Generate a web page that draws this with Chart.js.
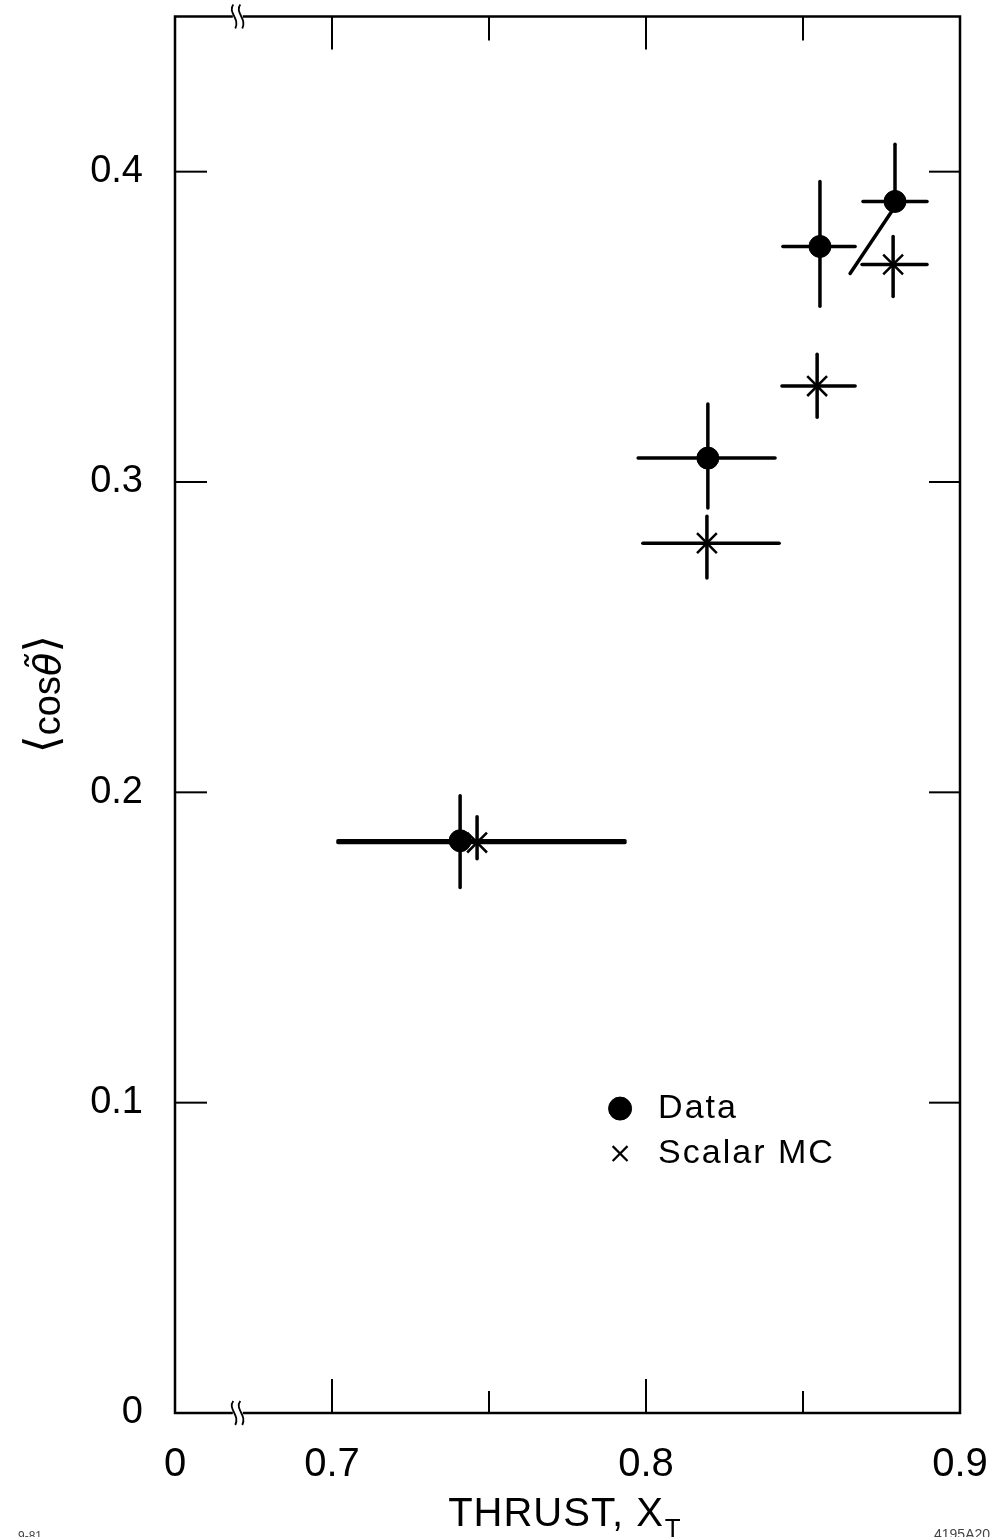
<!DOCTYPE html>
<html>
<head>
<meta charset="utf-8">
<script src="https://cdn.jsdelivr.net/npm/chart.js@4/dist/chart.umd.min.js"></script>
<style>
  html, body { margin: 0; padding: 0; background: #fff; }
  canvas { display: block; }
</style>
</head>
<body>
<canvas id="c" width="996" height="1537"></canvas>
<script>
// Measured <cos theta~> versus thrust: data points
const thrustData   = [0.7408, 0.8197, 0.8554, 0.8793];
const thrustDataLo = [0.7019, 0.7975, 0.8436, 0.8691];
const thrustDataHi = [0.7933, 0.8411, 0.8666, 0.8895];
const cosData      = [0.1844, 0.3077, 0.3759, 0.3904];
const cosDataLo    = [0.1693, 0.2916, 0.3566, 0.3904];
const cosDataHi    = [0.1989, 0.3251, 0.3968, 0.4088];

// Scalar gluon Monte Carlo expectation
const thrustMC   = [0.7462, 0.8194, 0.8545, 0.8787];
const thrustMCLo = [0.7019, 0.7990, 0.8433, 0.8688];
const thrustMCHi = [0.7933, 0.8424, 0.8666, 0.8895];
const cosMC      = [0.1838, 0.2803, 0.3309, 0.3701];
const cosMCLo    = [0.1786, 0.2691, 0.3209, 0.3598];
const cosMCHi    = [0.1921, 0.2890, 0.3412, 0.3791];

// slanted lower bar on the last data point
const slashThrust = [0.8650, 0.8793];
const slashCos    = [0.3672, 0.3888];

// axes
const xTickValues = [0.65, 0.7, 0.8, 0.9];
const xTickLabels = ['0', '0.7', '0.8', '0.9'];
const xMinorTicks = [0.75, 0.85];
const yTickValues = [0, 0.1, 0.2, 0.3, 0.4];
const yTickLabels = ['0', '0.1', '0.2', '0.3', '0.4'];
const xBreakAt = 0.67;

const FONT = '"Liberation Sans", Arial, sans-serif';

function seg(ctx, x1, y1, x2, y2) {
  ctx.beginPath(); ctx.moveTo(x1, y1); ctx.lineTo(x2, y2); ctx.stroke();
}

// keep the plot frame fixed: no extra room reserved for edge labels
function noEdgePadding(s) {
  s.paddingLeft = 0; s.paddingRight = 0; s.paddingTop = 0; s.paddingBottom = 0;
}

const framePlugin = {
  id: 'frame',
  beforeDatasetsDraw(chart) {
    const { ctx, chartArea: a, scales: { x, y } } = chart;
    ctx.save();
    ctx.strokeStyle = '#000';
    ctx.fillStyle = '#000';

    // outer box
    ctx.lineWidth = 2.5;
    ctx.strokeRect(a.left, a.top, a.right - a.left, a.bottom - a.top);

    // inward ticks, left and right
    ctx.lineWidth = 2;
    yTickValues.forEach(v => {
      if (v === 0) return;
      const py = y.getPixelForValue(v);
      seg(ctx, a.left, py, a.left + 32, py);
      seg(ctx, a.right - 31, py, a.right, py);
    });

    // inward ticks, top and bottom
    const xt = xTickValues.slice(1).concat(xMinorTicks).filter(v => v < x.max);
    xt.forEach(v => {
      const major = xTickValues.includes(v);
      const px = x.getPixelForValue(v);
      seg(ctx, px, a.bottom, px, a.bottom - (major ? 34 : 22));
      seg(ctx, px, a.top, px, a.top + (major ? 33 : 24));
    });

    // axis break marks
    const bx = x.getPixelForValue(xBreakAt);
    [a.top, a.bottom].forEach(by => {
      ctx.fillStyle = '#fff';
      ctx.fillRect(bx - 5, by - 3, 10, 6);
      ctx.strokeStyle = '#000';
      ctx.lineWidth = 1.8;
      [-3.5, 3.5].forEach(dx => {
        const cx = bx + dx;
        ctx.beginPath();
        ctx.moveTo(cx - 1, by - 12);
        ctx.bezierCurveTo(cx - 7, by - 4, cx + 6, by + 2, cx + 1, by + 12);
        ctx.stroke();
      });
    });

    // error bars
    ctx.lineWidth = 3.5;
    ctx.lineCap = 'round';
    const bars = (xs, xlo, xhi, ys, ylo, yhi) => {
      xs.forEach((xv, i) => {
        const py = y.getPixelForValue(ys[i]);
        const px = x.getPixelForValue(xv);
        seg(ctx, x.getPixelForValue(xlo[i]), py, x.getPixelForValue(xhi[i]), py);
        if (ylo[i] < ys[i]) seg(ctx, px, py, px, y.getPixelForValue(ylo[i]));
        if (yhi[i] > ys[i]) seg(ctx, px, py, px, y.getPixelForValue(yhi[i]));
      });
    };
    bars(thrustMC, thrustMCLo, thrustMCHi, cosMC, cosMCLo, cosMCHi);
    bars(thrustData, thrustDataLo, thrustDataHi, cosData, cosDataLo, cosDataHi);
    ctx.restore();
  },
  afterDatasetsDraw(chart) {
    const { ctx, chartArea: a } = chart;
    const W = a.right - a.left, H = a.bottom - a.top;
    ctx.save();
    ctx.fillStyle = '#000';
    ctx.strokeStyle = '#000';

    // legend inside the frame
    const lx = a.left + 0.567 * W;
    let ly = a.top + 0.782 * H;
    ctx.font = '34px ' + FONT;
    ctx.letterSpacing = '2px';
    ctx.textBaseline = 'middle';
    ctx.textAlign = 'left';
    chart.data.datasets.slice(0, 2).forEach(ds => {
      ctx.lineWidth = ds.pointStyle === 'circle' ? 1 : 2.2;
      Chart.helpers.drawPoint(ctx, {
        pointStyle: ds.pointStyle,
        radius: ds.pointStyle === 'circle' ? 11.5 : 10.5,
        rotation: 0,
        borderWidth: ctx.lineWidth
      }, lx, ly);
      ctx.fillText(ds.label, lx + 38, ly);
      ly += 45;
    });

    // x axis title with subscript
    ctx.letterSpacing = '1px';
    ctx.font = '40px ' + FONT;
    ctx.textBaseline = 'alphabetic';
    const t = 'THRUST, X';
    const tw = ctx.measureText(t).width;
    const tx = 560 - tw / 2 - 4;
    ctx.fillText(t, tx, 1526);
    ctx.font = '26px ' + FONT;
    ctx.fillText('T', tx + tw + 1, 1537);

    // y axis title, rotated
    ctx.letterSpacing = '0px';
    ctx.translate(60, 694);
    ctx.rotate(-Math.PI / 2);
    const parts = [
      { s: '\u27E8', f: '46px "DejaVu Sans", sans-serif', dy: -3 },
      { s: 'cos', f: '38px ' + FONT, dy: 0 },
      { s: '\u03B8\u0303', f: 'italic 38px "DejaVu Sans", sans-serif', dy: 0 },
      { s: '\u27E9', f: '46px "DejaVu Sans", sans-serif', dy: -3 }
    ];
    let total = 0;
    parts.forEach(p => { ctx.font = p.f; p.w = ctx.measureText(p.s).width; total += p.w; });
    let cx = -total / 2;
    ctx.textAlign = 'left';
    parts.forEach(p => { ctx.font = p.f; ctx.fillText(p.s, cx, p.dy); cx += p.w; });
    ctx.restore();

    // figure codes in the corners
    ctx.save();
    ctx.fillStyle = '#444';
    ctx.font = '12px ' + FONT;
    ctx.textBaseline = 'alphabetic';
    ctx.fillText('9-81', 18, 1540);
    ctx.font = '14px ' + FONT;
    ctx.fillText('4195A20', 934, 1539);
    ctx.restore();
  }
};

new Chart(document.getElementById('c'), {
  type: 'scatter',
  data: {
    datasets: [
      {
        label: 'Data',
        data: thrustData.map((v, i) => ({ x: v, y: cosData[i] })),
        pointStyle: 'circle',
        pointRadius: 11,
        backgroundColor: '#000',
        borderColor: '#000',
        borderWidth: 1
      },
      {
        label: 'Scalar MC',
        data: thrustMC.map((v, i) => ({ x: v, y: cosMC[i] })),
        pointStyle: 'crossRot',
        pointRadius: 14,
        borderColor: '#000',
        backgroundColor: '#000',
        borderWidth: 2.5
      },
      {
        label: 'slash',
        data: slashThrust.map((v, i) => ({ x: v, y: slashCos[i] })),
        showLine: true,
        pointRadius: 0,
        borderColor: '#000',
        borderWidth: 3.5,
        borderCapStyle: 'round'
      }
    ]
  },
  options: {
    responsive: false,
    animation: false,
    layout: { padding: { left: 0, right: 36, top: 15, bottom: 0 } },
    plugins: { legend: { display: false }, tooltip: { enabled: false }, title: { display: false } },
    scales: {
      x: {
        type: 'linear',
        min: 0.65,
        max: 0.9,
        afterBuildTicks: s => { s.ticks = xTickValues.map(v => ({ value: v })); },
        afterFit: s => { s.height = 124; noEdgePadding(s); },
        grid: { display: false, drawTicks: false, tickLength: 0 },
        border: { display: false },
        ticks: {
          autoSkip: false,
          maxRotation: 0,
          padding: 28,
          color: '#000',
          font: { family: FONT, size: 40 },
          callback: v => xTickLabels[xTickValues.indexOf(v)]
        }
      },
      y: {
        type: 'linear',
        min: 0,
        max: 0.45,
        afterBuildTicks: s => { s.ticks = yTickValues.map(v => ({ value: v })); },
        afterFit: s => { s.width = 175; noEdgePadding(s); },
        grid: { display: false, drawTicks: false, tickLength: 0 },
        border: { display: false },
        ticks: {
          autoSkip: false,
          padding: 32,
          color: '#000',
          font: { family: FONT, size: 38 },
          callback: v => yTickLabels[yTickValues.indexOf(v)]
        }
      }
    }
  },
  plugins: [framePlugin]
});
</script>
</body>
</html>
